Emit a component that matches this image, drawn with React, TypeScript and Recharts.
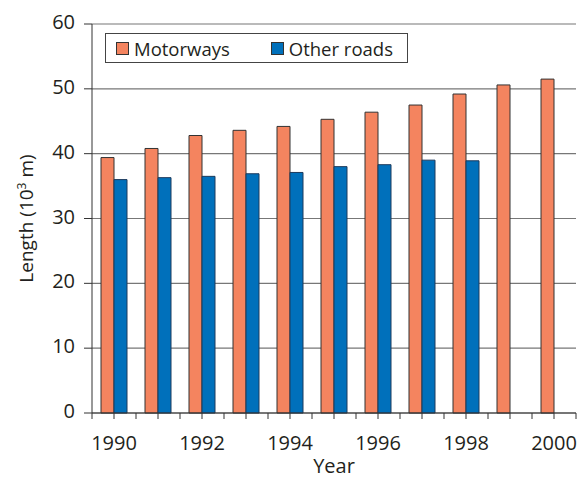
import React from 'react';
import { BarChart, Bar, XAxis, YAxis, CartesianGrid, Legend, Label } from 'recharts';

const years = [1990, 1991, 1992, 1993, 1994, 1995, 1996, 1997, 1998, 1999, 2000];
const motorways = [39.4, 40.8, 42.8, 43.6, 44.2, 45.3, 46.4, 47.5, 49.2, 50.6, 51.5];
const otherRoads: (number | null)[] = [36.0, 36.3, 36.5, 36.9, 37.1, 38.0, 38.3, 39.0, 38.9, null, null];
const yTicks = [0, 10, 20, 30, 40, 50, 60];

const seriesNames = ['Motorways', 'Other roads'];
const seriesColors = ['#F4845F', '#0070BB'];

const data = years.map((y, i) => ({ year: y, motorways: motorways[i], other: otherRoads[i] }));

const FONT = '"Open Sans", sans-serif';
const TEXT = '#231f20';
const X_TICK_SIZE = 6;
const X_TICK_MARGIN = 17;

const LegendBox = () => (
  <div
    style={{
      border: '1px solid #444',
      height: 30,
      display: 'flex',
      alignItems: 'center',
      fontFamily: FONT,
      fontSize: 18.5,
      color: TEXT,
      boxSizing: 'border-box',
    }}
  >
    {seriesNames.map((n, i) => (
      <div key={n} style={{ display: 'flex', alignItems: 'center', marginLeft: i === 0 ? 10 : 41 }}>
        <span
          style={{
            display: 'inline-block',
            width: 13,
            height: 13,
            background: seriesColors[i],
            border: '1px solid #333',
            boxSizing: 'border-box',
            marginRight: 5,
          }}
        />
        <span>{n}</span>
      </div>
    ))}
  </div>
);

const XTick = (props: any) => {
  const { x, y, payload, index, visibleTicksCount } = props;
  const off = payload?.offset ?? 0;
  const axisY = y - X_TICK_SIZE - X_TICK_MARGIN;
  const v = Number(payload.value);
  const isLast = index === visibleTicksCount - 1;
  return (
    <g>
      <line x1={x - off} x2={x - off} y1={axisY} y2={axisY + X_TICK_SIZE} stroke="#333" />
      {isLast && <line x1={x + off} x2={x + off} y1={axisY} y2={axisY + X_TICK_SIZE} stroke="#333" />}
      {v % 2 === 0 && (
        <text x={x} y={y} dy="0.71em" textAnchor="middle" fontFamily={FONT} fontSize={20} fill={TEXT}>
          {v}
        </text>
      )}
    </g>
  );
};

const YLabel = (props: any) => {
  const vb = props.viewBox || {};
  const cx = 33;
  const cy = vb.y + vb.height / 2;
  return (
    <text
      x={cx}
      y={cy}
      transform={`rotate(-90, ${cx}, ${cy})`}
      textAnchor="middle"
      fontFamily={FONT}
      fontSize={19}
      fill={TEXT}
    >
      Length (10
      <tspan dy={-7} fontSize={12}>3</tspan>
      <tspan dy={7}> m)</tspan>
    </text>
  );
};

const XLabel = (props: any) => {
  const vb = props.viewBox || {};
  return (
    <text
      x={vb.x + vb.width / 2}
      y={473}
      textAnchor="middle"
      fontFamily={FONT}
      fontSize={20}
      fill={TEXT}
    >
      Year
    </text>
  );
};

export default function App() {
  return (
    <div style={{ position: 'absolute', left: 0, top: 0, width: 580, height: 479 }}>
      <BarChart
        width={580}
        height={479}
        data={data}
        margin={{ top: 24, right: 4, bottom: 0, left: 0 }}
        barGap={0}
        barSize={13}
      >
        <CartesianGrid horizontal vertical={false} stroke="#777" strokeWidth={1.2} />
        <XAxis
          dataKey="year"
          padding={{ left: 0, right: 0 }}
          interval={0}
          height={66}
          tickSize={X_TICK_SIZE}
          tickMargin={X_TICK_MARGIN}
          stroke="#333"
          tick={<XTick />}
        >
          <Label content={<XLabel />} />
        </XAxis>
        <YAxis
          domain={[0, 60]}
          ticks={yTicks}
          width={92}
          tickSize={8}
          tickMargin={9}
          stroke="#333"
          interval={0}
          tick={{ fontFamily: FONT, fontSize: 20, fill: TEXT, dy: -2 }}
        >
          <Label content={<YLabel />} />
        </YAxis>
        <YAxis
          yAxisId="right"
          orientation="right"
          domain={[0, 60]}
          width={0}
          tick={false}
          tickLine={false}
          stroke="#888"
        />
        <Legend
          layout="horizontal"
          verticalAlign="middle"
          align="center"
          wrapperStyle={{ left: 105, top: 33, width: 303 }}
          content={<LegendBox />}
        />
        <Bar dataKey="motorways" name={seriesNames[0]} fill={seriesColors[0]} stroke="#333" strokeWidth={1} isAnimationActive={false} />
        <Bar dataKey="other" name={seriesNames[1]} fill={seriesColors[1]} stroke="#1d3a5c" strokeWidth={1} isAnimationActive={false} />
      </BarChart>
    </div>
  );
}
